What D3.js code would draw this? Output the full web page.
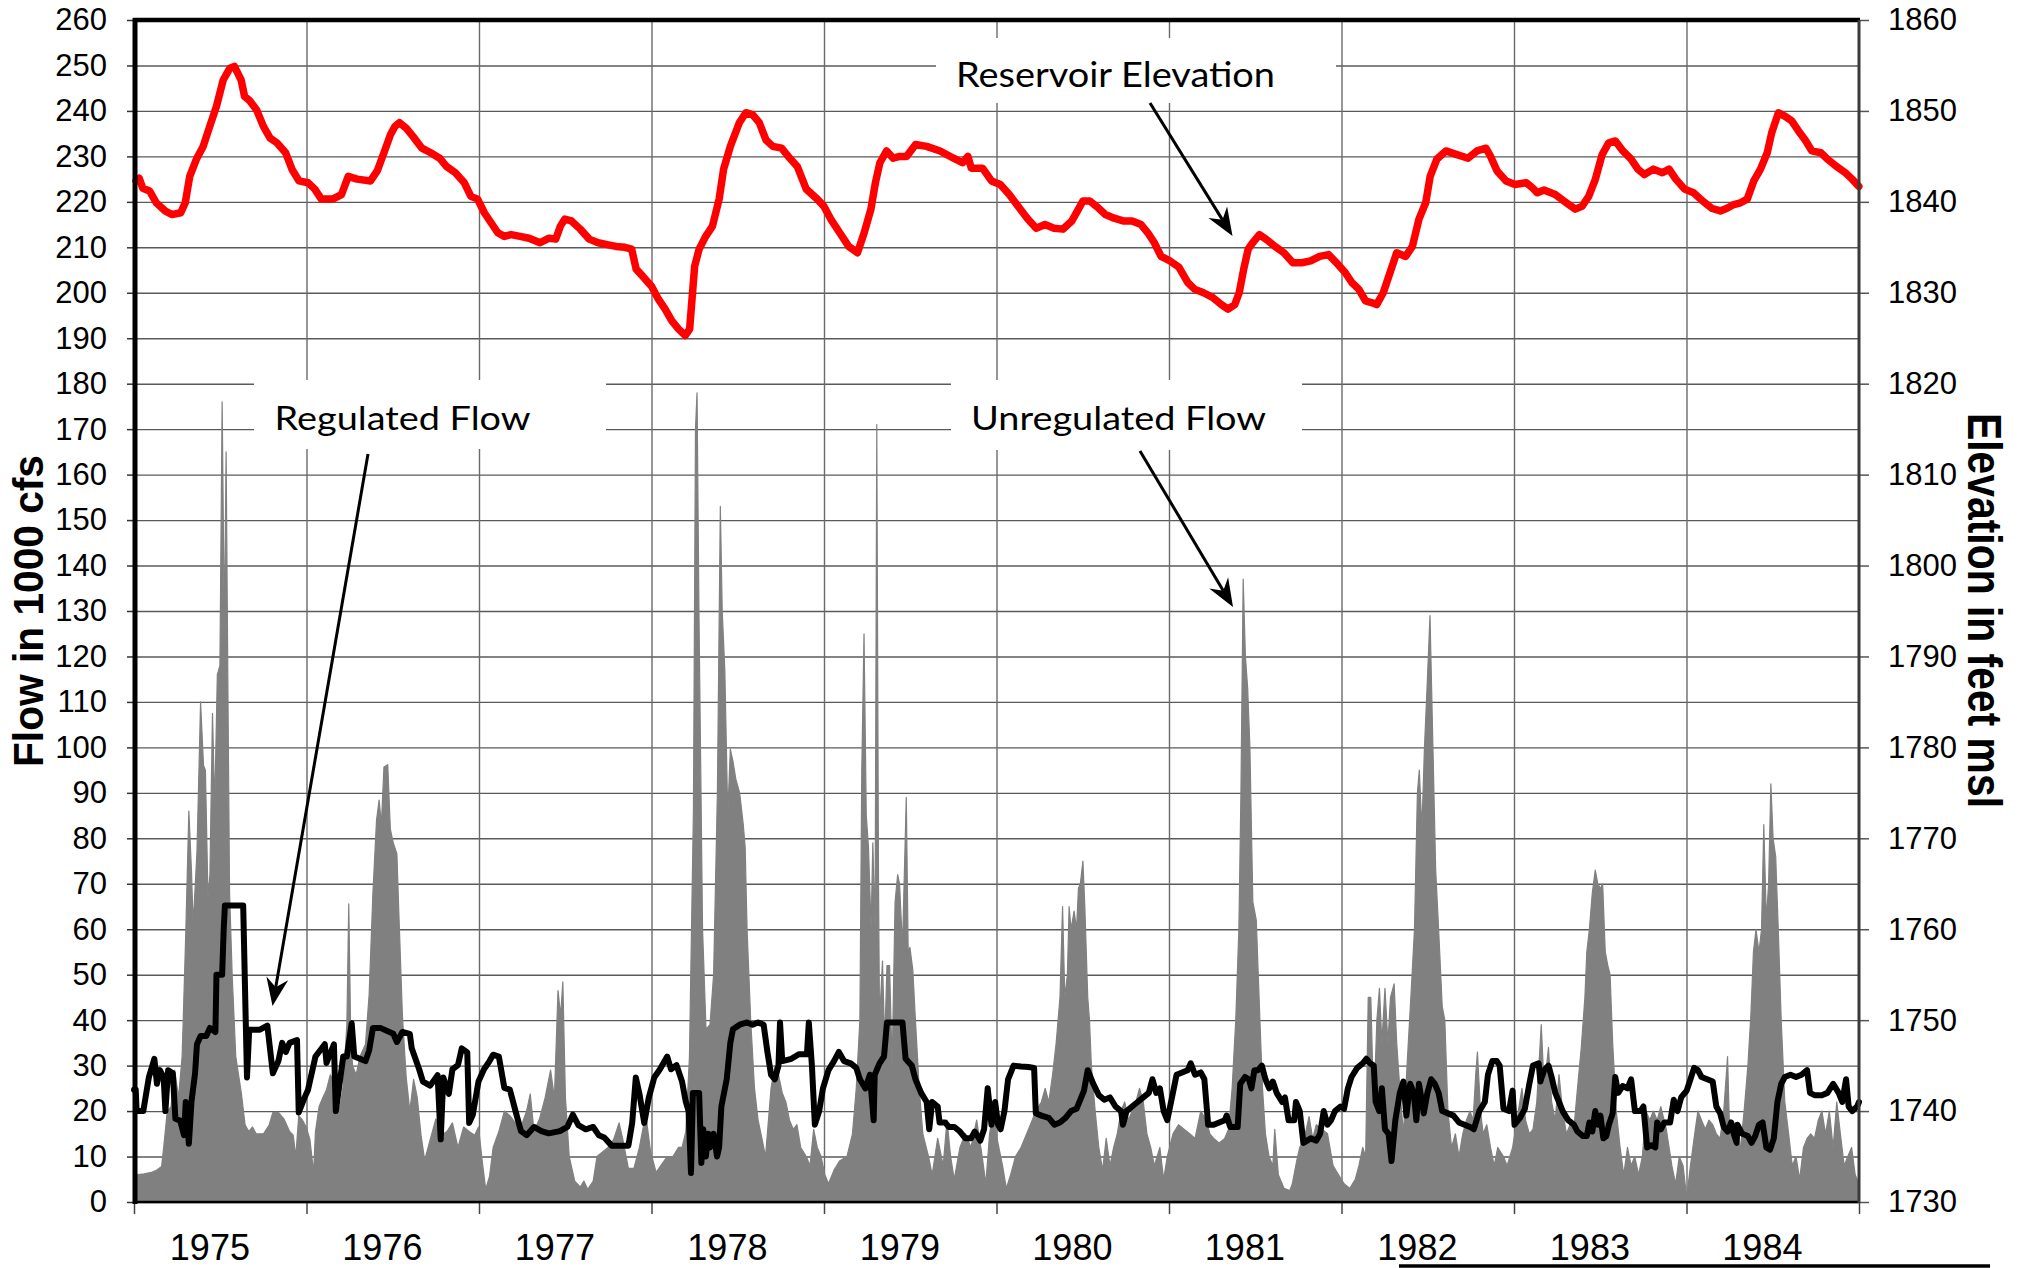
<!DOCTYPE html>
<html>
<head>
<meta charset="utf-8">
<script src="https://cdn.jsdelivr.net/npm/d3@7"></script>
<style>
  body { margin: 0; background: #ffffff; }
  svg { display: block; }
</style>
</head>
<body>
<svg id="chart" width="2023" height="1268"></svg>
<script>
// ---------------- DATA ----------------
// Time is expressed in years since the start of the record (0 = left edge, 10 = right edge).
const yearLabels = [1975, 1976, 1977, 1978, 1979, 1980, 1981, 1982, 1983, 1984];
const yearBoundaries = [0, 1, 2, 3, 4, 5, 6, 7, 8, 9, 10];
const flowTicks = [0, 10, 20, 30, 40, 50, 60, 70, 80, 90, 100, 110, 120, 130, 140, 150, 160, 170, 180, 190, 200, 210, 220, 230, 240, 250, 260];
const elevationTicks = [1730, 1740, 1750, 1760, 1770, 1780, 1790, 1800, 1810, 1820, 1830, 1840, 1850, 1860];

// Unregulated flow, 1000 cfs  [time, flow]
const unregulatedFlow = [
[0,8.3],[0.01,6],[0.06,6.2],[0.10,6.5],[0.13,7],[0.16,7.8],[0.172,12],[0.193,20],[0.215,21],[0.236,29],[0.258,23],[0.279,32],[0.30,59],[0.318,86],[0.333,73],[0.343,61],[0.365,77],[0.386,110],[0.403,96],[0.414,95],[0.429,67],[0.44,72],[0.455,107.5],[0.468,87],[0.483,116],[0.498,118],[0.511,176],[0.524,125],[0.534,165],[0.545,110],[0.554,68],[0.569,50],[0.59,32],[0.622,24],[0.644,17],[0.665,15.5],[0.687,16.5],[0.708,15],[0.751,15],[0.784,17],[0.805,19.7],[0.837,19.7],[0.869,18.3],[0.902,15.5],[0.923,14.7],[0.938,10],[0.955,19],[0.977,18],[0.998,16.5],[1.02,13.7],[1.041,6.5],[1.052,15.5],[1.073,21],[1.095,23],[1.116,24.7],[1.138,28],[1.17,25.6],[1.191,20],[1.213,25.6],[1.234,39],[1.245,65.6],[1.257,35],[1.267,30],[1.288,28],[1.31,32],[1.342,34.7],[1.363,45.6],[1.385,68],[1.406,84],[1.421,88.4],[1.434,83],[1.449,95.7],[1.471,96.2],[1.486,82],[1.503,79],[1.524,76.6],[1.535,64],[1.556,41],[1.578,27.4],[1.599,20],[1.621,27],[1.642,23],[1.664,14.7],[1.685,9.2],[1.717,13.7],[1.75,18.3],[1.782,14.7],[1.814,15.5],[1.846,17.4],[1.878,12],[1.911,16.5],[1.943,15.5],[1.975,14.7],[1.997,16.5],[2.018,9.2],[2.039,2.8],[2.061,5.6],[2.082,12],[2.115,15.5],[2.147,20],[2.179,19],[2.211,17.4],[2.243,16.5],[2.276,20],[2.297,23.8],[2.319,15.5],[2.351,18.3],[2.383,22.9],[2.415,29],[2.437,22.9],[2.458,46.5],[2.473,41],[2.486,48.4],[2.501,23],[2.523,10],[2.555,4.6],[2.587,3.3],[2.608,4.6],[2.63,2.8],[2.662,4.6],[2.684,10],[2.716,11],[2.748,12],[2.78,13.7],[2.812,17.4],[2.834,13.7],[2.866,7.4],[2.898,7.4],[2.93,12],[2.952,16.5],[2.973,17.4],[2.995,11],[3.027,6.5],[3.059,8.3],[3.091,10],[3.124,10],[3.156,12],[3.177,12],[3.199,15.5],[3.22,32],[3.243,86],[3.255,170],[3.264,178],[3.275,130],[3.296,60],[3.316,38],[3.339,39],[3.36,50],[3.382,90],[3.399,153],[3.41,130],[3.425,117],[3.442,85],[3.457,99.6],[3.472,97],[3.489,93],[3.511,90],[3.532,83],[3.543,78],[3.554,60],[3.575,40],[3.597,25],[3.618,18],[3.64,14],[3.661,10],[3.693,25],[3.715,30],[3.736,28],[3.758,24],[3.779,22],[3.8,18],[3.822,16],[3.843,17],[3.865,12],[3.897,10],[3.919,8],[3.94,16],[3.961,12],[3.983,10],[4.005,6],[4.026,4],[4.058,7],[4.09,9],[4.133,10],[4.165,15],[4.187,25],[4.208,40],[4.219,95],[4.232,125],[4.245,85],[4.258,78],[4.273,60],[4.283,79],[4.296,60],[4.306,171],[4.316,70],[4.322,40],[4.339,53],[4.352,35],[4.365,52],[4.38,52],[4.395,30],[4.412,66],[4.427,72],[4.438,70],[4.455,56],[4.477,89],[4.488,55],[4.498,56],[4.515,51],[4.53,40],[4.552,25],[4.573,15],[4.606,10],[4.627,6],[4.659,14],[4.691,8],[4.713,18],[4.734,10],[4.755,5],[4.788,12],[4.82,15],[4.852,12],[4.885,18],[4.917,10],[4.938,4],[4.96,15],[4.981,20],[5.003,14],[5.035,8],[5.057,3],[5.082,6],[5.11,10],[5.142,12],[5.175,15],[5.207,18],[5.228,20],[5.26,22],[5.282,25],[5.303,22],[5.325,28],[5.346,35],[5.368,45],[5.383,65],[5.396,45],[5.411,50],[5.421,65],[5.432,60],[5.45,64],[5.464,60],[5.475,69],[5.486,70],[5.501,75],[5.512,65],[5.529,45],[5.539,40],[5.55,30],[5.572,20],[5.593,12],[5.615,7],[5.636,14],[5.658,8],[5.679,12],[5.7,15],[5.722,20],[5.743,22],[5.765,18],[5.786,20],[5.808,22],[5.829,25],[5.851,22],[5.872,15],[5.894,12],[5.915,8],[5.947,12],[5.969,5],[5.99,10],[6.023,15],[6.055,17],[6.087,16],[6.12,15],[6.151,14],[6.184,20],[6.216,18],[6.237,15],[6.259,14],[6.291,13],[6.323,14],[6.345,16],[6.366,25],[6.387,40],[6.405,60],[6.417,90],[6.43,137],[6.443,120],[6.456,113],[6.469,100],[6.486,66],[6.506,62],[6.527,40],[6.542,25],[6.559,15],[6.58,10],[6.602,8],[6.613,16],[6.634,6],[6.667,3],[6.7,2.5],[6.715,4],[6.74,9],[6.758,12],[6.79,15],[6.812,18.8],[6.833,14],[6.854,17],[6.887,16],[6.919,15],[6.951,8],[6.983,6],[7.015,4],[7.048,3],[7.08,5],[7.101,8],[7.123,12],[7.14,10],[7.155,45],[7.17,45],[7.187,20],[7.205,40],[7.22,47],[7.234,35],[7.252,47],[7.269,35],[7.284,45],[7.305,48],[7.32,35],[7.338,25],[7.359,15],[7.38,30],[7.402,45],[7.423,60],[7.44,90],[7.451,95],[7.466,82],[7.481,100],[7.498,115],[7.513,129],[7.53,100],[7.546,73],[7.563,60],[7.584,43],[7.599,40],[7.617,20],[7.638,12],[7.66,15],[7.681,10],[7.703,15],[7.724,18],[7.745,20],[7.763,18],[7.778,28],[7.788,33],[7.806,20],[7.821,15],[7.842,17],[7.864,12],[7.885,8],[7.906,12],[7.939,10],[7.96,8],[7.992,12],[8.025,20],[8.046,25],[8.067,18],[8.089,15],[8.11,16],[8.132,22],[8.158,39],[8.175,25],[8.2,34],[8.218,22],[8.239,18],[8.261,28],[8.282,20],[8.304,15],[8.325,17],[8.347,16],[8.368,25],[8.39,34],[8.411,45],[8.422,55],[8.437,60],[8.454,68],[8.471,73],[8.486,70],[8.501,69],[8.514,70],[8.529,55],[8.544,52],[8.557,50],[8.572,35],[8.593,20],[8.615,12],[8.636,6],[8.658,12],[8.679,8],[8.7,10],[8.722,6],[8.744,10],[8.765,20],[8.787,18],[8.808,20],[8.83,18],[8.851,21],[8.883,16],[8.915,8],[8.937,4],[8.958,10],[8.98,8],[9.001,1],[9.023,8],[9.044,14],[9.066,20],[9.087,18],[9.109,16],[9.13,18],[9.152,17],[9.173,15],[9.195,14],[9.216,20],[9.238,32],[9.248,18],[9.27,16],[9.291,14],[9.313,12],[9.334,20],[9.356,30],[9.373,41],[9.388,55],[9.403,60],[9.42,55],[9.435,60],[9.448,83],[9.463,62],[9.476,70],[9.489,92],[9.502,80],[9.517,76],[9.532,60],[9.549,40],[9.57,22],[9.592,15],[9.613,8],[9.635,10],[9.656,5],[9.678,12],[9.699,14],[9.72,15],[9.742,14],[9.764,18],[9.785,20],[9.806,15],[9.828,20],[9.85,12],[9.871,22],[9.892,15],[9.914,8],[9.935,10],[9.957,12],[9.978,6],[10,4]
];

// Regulated flow, 1000 cfs  [time, flow]
const regulatedFlow = [
[0,24.7],[0.01,24.7],[0.015,20],[0.054,20],[0.086,27.4],[0.118,31.5],[0.133,26],[0.15,29],[0.172,27.4],[0.182,20],[0.198,29],[0.225,28.3],[0.24,18.3],[0.268,17.9],[0.29,14.7],[0.30,22],[0.318,12.8],[0.333,22],[0.354,28.3],[0.365,34.7],[0.386,36.5],[0.419,36.5],[0.44,38.3],[0.472,37.4],[0.478,50],[0.511,50],[0.52,60],[0.527,65.2],[0.633,65.2],[0.655,27.4],[0.668,37.9],[0.73,37.9],[0.773,38.8],[0.805,28.3],[0.837,31],[0.859,35],[0.88,33],[0.902,35],[0.945,35.6],[0.955,19.7],[0.988,22.9],[1.009,24.7],[1.052,32],[1.106,34.7],[1.116,30.6],[1.159,34.7],[1.17,20],[1.213,32],[1.234,32],[1.262,39.3],[1.277,32],[1.342,31],[1.363,33.3],[1.385,38.3],[1.428,38.3],[1.503,37],[1.524,35.2],[1.556,37.4],[1.599,37],[1.61,33.8],[1.653,29.2],[1.675,26.5],[1.717,25.6],[1.76,27.9],[1.778,13.8],[1.793,27.4],[1.825,23.8],[1.846,29.2],[1.878,30.1],[1.9,33.8],[1.932,32.9],[1.943,17.4],[1.964,19.2],[1.997,26.5],[2.029,29.2],[2.061,31],[2.082,32.4],[2.115,32],[2.147,25.1],[2.179,24.7],[2.211,20.1],[2.243,15.6],[2.276,14.7],[2.319,16.5],[2.362,15.6],[2.404,15.1],[2.469,15.6],[2.512,16.5],[2.544,19.2],[2.576,16.9],[2.619,16],[2.662,16.5],[2.694,14.7],[2.726,14.2],[2.769,12.4],[2.812,12.4],[2.866,12.4],[2.888,17.4],[2.909,27.4],[2.93,23.8],[2.958,17.4],[2.984,22.9],[3.016,27.4],[3.049,29.2],[3.091,32],[3.113,29.2],[3.145,30.1],[3.177,26.5],[3.199,22],[3.215,20],[3.229,6.4],[3.24,24],[3.276,24],[3.289,8.6],[3.3,16],[3.315,10],[3.33,15],[3.339,12],[3.36,15],[3.38,10],[3.392,12],[3.405,21],[3.436,27],[3.457,35],[3.472,38],[3.511,39],[3.554,39.5],[3.586,39],[3.618,39.5],[3.65,39],[3.672,33],[3.693,28],[3.715,27],[3.736,30],[3.745,39.5],[3.758,31],[3.811,31.5],[3.854,32.5],[3.901,32.5],[3.912,39.5],[3.93,30],[3.947,17],[3.972,20],[3.994,25],[4.026,29],[4.058,31],[4.086,33],[4.116,31],[4.155,30.5],[4.187,29.5],[4.208,27],[4.24,25],[4.266,28],[4.288,18],[4.294,28],[4.322,30.5],[4.348,32],[4.365,39.5],[4.455,39.5],[4.473,31.5],[4.509,30],[4.53,27],[4.563,24],[4.595,22],[4.61,16],[4.627,22],[4.659,21],[4.67,17.5],[4.702,17.5],[4.724,16.5],[4.756,16.5],[4.788,15.5],[4.82,14],[4.852,14],[4.874,15.5],[4.906,13.5],[4.928,16],[4.949,25],[4.971,17],[4.992,22],[5.009,17],[5.024,16],[5.046,20],[5.067,27],[5.099,30],[5.142,29.8],[5.185,29.7],[5.218,29.5],[5.228,19.5],[5.26,19],[5.303,18.5],[5.336,17],[5.368,17.5],[5.4,18.5],[5.432,20],[5.464,20.5],[5.486,22.5],[5.507,24.5],[5.529,29],[5.561,26],[5.593,23.5],[5.625,22.5],[5.658,23],[5.69,21],[5.722,20],[5.733,17],[5.754,20],[5.786,21],[5.818,22],[5.851,23],[5.883,24],[5.904,27],[5.926,24],[5.947,25],[5.969,20],[5.99,18],[6.012,22],[6.044,28],[6.076,28.5],[6.108,29],[6.126,30.5],[6.151,28],[6.184,28.5],[6.205,27],[6.227,17],[6.259,17],[6.291,17.5],[6.323,18],[6.334,19],[6.355,16.5],[6.398,16.5],[6.413,26],[6.441,27.5],[6.463,27],[6.478,25],[6.495,29],[6.516,29],[6.538,30],[6.559,27],[6.581,25],[6.602,26.5],[6.624,24],[6.656,22],[6.672,23],[6.693,18],[6.726,18],[6.736,22],[6.758,20],[6.779,13],[6.822,14],[6.854,13.5],[6.876,15],[6.897,20],[6.919,17],[6.94,18],[6.962,20],[6.994,21],[7.015,20.5],[7.037,25],[7.058,27.5],[7.091,29.5],[7.123,30.5],[7.144,31.5],[7.166,30.5],[7.187,30],[7.198,22],[7.219,20],[7.234,25],[7.252,16],[7.273,15],[7.29,9],[7.312,18],[7.338,24],[7.359,26.5],[7.376,19],[7.398,26],[7.419,24],[7.434,18],[7.449,26],[7.477,19.5],[7.498,24],[7.52,27],[7.541,26],[7.563,24],[7.584,20],[7.617,19.5],[7.649,19],[7.681,17.5],[7.713,17],[7.745,16.5],[7.767,16],[7.799,20],[7.831,22],[7.849,28],[7.874,31],[7.9,31],[7.917,30],[7.939,20.5],[7.971,20],[7.992,24.5],[8.003,17],[8.035,18.5],[8.063,20.5],[8.089,26],[8.11,30],[8.143,30.5],[8.153,26.5],[8.175,29],[8.2,30],[8.218,27.5],[8.239,24],[8.261,22],[8.282,20],[8.314,18],[8.347,17],[8.368,15.5],[8.4,14.5],[8.422,14.5],[8.437,17.5],[8.454,15.5],[8.471,20],[8.486,17],[8.501,19],[8.518,14],[8.535,14.5],[8.55,17],[8.572,19.5],[8.587,27.5],[8.604,24],[8.63,25.5],[8.658,25],[8.679,27],[8.701,20],[8.733,20],[8.75,21],[8.772,12],[8.797,12.5],[8.819,12],[8.83,17.5],[8.851,16],[8.872,17.5],[8.905,17.5],[8.926,22.5],[8.948,20],[8.969,23],[9.001,24.5],[9.023,27],[9.044,29.5],[9.066,29],[9.087,27.5],[9.12,27],[9.152,26.5],[9.173,21],[9.195,19.5],[9.216,16.5],[9.238,15.5],[9.259,17.5],[9.274,15],[9.291,13],[9.295,17],[9.323,15],[9.356,14.5],[9.377,13],[9.398,14.5],[9.42,17],[9.441,17.5],[9.463,12],[9.484,11.5],[9.506,14],[9.527,22],[9.549,26],[9.57,27.5],[9.603,28],[9.635,27.5],[9.667,28],[9.699,29],[9.716,24],[9.742,23.5],[9.785,23.5],[9.817,24],[9.85,26],[9.882,24],[9.903,22],[9.925,27],[9.94,21],[9.961,20],[9.989,21],[10,22]
];

// Reservoir elevation, feet msl  [time, elevation]
const reservoirElevation = [
[0.012,1842.3],[0.03,1842.6],[0.051,1841.5],[0.09,1841.2],[0.129,1839.9],[0.181,1839.0],[0.219,1838.6],[0.271,1838.8],[0.297,1839.9],[0.323,1842.8],[0.362,1844.7],[0.401,1846.1],[0.439,1848.3],[0.478,1850.5],[0.517,1853.4],[0.556,1854.7],[0.582,1854.9],[0.621,1853.4],[0.641,1851.6],[0.672,1851.1],[0.711,1850.1],[0.75,1848.3],[0.789,1847.0],[0.828,1846.5],[0.879,1845.4],[0.918,1843.5],[0.957,1842.3],[1.009,1842.1],[1.048,1841.4],[1.086,1840.3],[1.151,1840.3],[1.203,1840.8],[1.242,1842.8],[1.293,1842.5],[1.371,1842.3],[1.41,1843.4],[1.449,1845.4],[1.487,1847.4],[1.513,1848.3],[1.539,1848.7],[1.578,1848.1],[1.617,1847.2],[1.669,1845.9],[1.72,1845.4],[1.772,1844.8],[1.811,1843.9],[1.863,1843.2],[1.915,1842.1],[1.953,1840.6],[1.992,1840.3],[2.031,1838.8],[2.07,1837.7],[2.109,1836.6],[2.147,1836.2],[2.186,1836.4],[2.238,1836.2],[2.29,1836.0],[2.354,1835.5],[2.406,1836.0],[2.445,1835.9],[2.471,1837.3],[2.497,1838.1],[2.536,1837.9],[2.587,1837.0],[2.639,1835.9],[2.691,1835.5],[2.743,1835.3],[2.794,1835.1],[2.846,1835.0],[2.885,1834.8],[2.911,1832.6],[2.95,1831.8],[3.001,1830.7],[3.04,1829.3],[3.079,1828.2],[3.118,1826.9],[3.157,1826.0],[3.196,1825.3],[3.221,1826.0],[3.25,1832.9],[3.276,1834.8],[3.314,1836.2],[3.353,1837.3],[3.392,1840.3],[3.418,1843.6],[3.457,1846.1],[3.509,1848.7],[3.547,1849.8],[3.586,1849.6],[3.625,1848.7],[3.664,1846.8],[3.703,1846.1],[3.754,1845.9],[3.793,1845.0],[3.845,1843.9],[3.897,1841.4],[3.961,1840.3],[4.0,1839.5],[4.039,1838.1],[4.091,1836.6],[4.143,1835.1],[4.194,1834.4],[4.233,1836.6],[4.272,1839.2],[4.298,1842.1],[4.324,1844.3],[4.363,1845.6],[4.401,1844.8],[4.44,1845.0],[4.479,1845.0],[4.531,1846.3],[4.595,1846.1],[4.673,1845.6],[4.751,1844.8],[4.803,1844.3],[4.834,1845.0],[4.854,1843.7],[4.919,1843.7],[4.971,1842.3],[5.022,1841.9],[5.074,1840.8],[5.126,1839.5],[5.178,1838.2],[5.23,1837.1],[5.281,1837.5],[5.333,1837.1],[5.385,1837.0],[5.437,1837.9],[5.475,1839.2],[5.501,1840.1],[5.54,1840.1],[5.592,1839.3],[5.631,1838.6],[5.682,1838.2],[5.734,1837.9],[5.786,1837.9],[5.838,1837.5],[5.877,1836.6],[5.915,1835.5],[5.954,1834.0],[6.006,1833.5],[6.058,1832.8],[6.11,1831.1],[6.148,1830.4],[6.2,1830.0],[6.252,1829.5],[6.304,1828.7],[6.342,1828.2],[6.381,1828.7],[6.407,1830.0],[6.433,1832.6],[6.459,1834.8],[6.485,1835.5],[6.524,1836.4],[6.562,1835.9],[6.614,1835.1],[6.666,1834.4],[6.718,1833.3],[6.77,1833.3],[6.821,1833.5],[6.873,1834.0],[6.925,1834.2],[6.971,1833.3],[7.022,1832.2],[7.061,1831.1],[7.1,1830.4],[7.139,1829.1],[7.178,1828.9],[7.204,1828.7],[7.242,1830.0],[7.281,1832.2],[7.32,1834.4],[7.372,1834.0],[7.411,1835.1],[7.449,1838.1],[7.488,1839.9],[7.514,1842.8],[7.553,1844.7],[7.605,1845.6],[7.669,1845.2],[7.734,1844.8],[7.786,1845.6],[7.838,1845.9],[7.864,1845.0],[7.902,1843.4],[7.954,1842.3],[8.006,1841.9],[8.071,1842.1],[8.109,1841.5],[8.135,1841.0],[8.174,1841.3],[8.239,1840.8],[8.303,1839.9],[8.355,1839.2],[8.394,1839.5],[8.433,1840.6],[8.472,1842.5],[8.511,1845.2],[8.549,1846.5],[8.588,1846.7],[8.627,1845.7],[8.679,1844.7],[8.718,1843.6],[8.756,1843.0],[8.808,1843.6],[8.86,1843.2],[8.899,1843.6],[8.938,1842.5],[8.989,1841.4],[9.041,1841.0],[9.093,1840.1],[9.145,1839.3],[9.196,1839.0],[9.235,1839.3],[9.274,1839.7],[9.313,1839.9],[9.352,1840.3],[9.39,1842.3],[9.429,1843.6],[9.468,1845.4],[9.494,1847.6],[9.533,1849.8],[9.572,1849.4],[9.61,1848.9],[9.649,1847.8],[9.688,1846.8],[9.727,1845.6],[9.779,1845.4],[9.817,1844.7],[9.869,1843.9],[9.921,1843.2],[9.96,1842.5],[9.999,1841.7]
];

// ---------------- CHART ----------------
const svg = d3.select("#chart");
const L = 134, R = 1859, T = 20, B = 1202;

const x = d3.scaleLinear().domain([0, 10]).range([L, R]);
const yFlow = d3.scaleLinear().domain([0, 260]).range([B, T]);
const yElev = d3.scaleLinear().domain([1730, 1860]).range([B, T]);

svg.append("rect").attr("width", 2023).attr("height", 1268).attr("fill", "#fff");

// gridlines
const gridH = svg.append("g").attr("transform", `translate(${L},0)`)
  .call(d3.axisLeft(yFlow).tickValues(flowTicks).tickSize(-(R - L)).tickFormat(""));
gridH.select(".domain").remove();
gridH.selectAll("line").attr("stroke", "#5a5a5a").attr("stroke-width", 1.4);

const gridV = svg.append("g").attr("transform", `translate(0,${B})`)
  .call(d3.axisBottom(x).tickValues(yearBoundaries.slice(1, -1)).tickSize(-(B - T)).tickFormat(""));
gridV.select(".domain").remove();
gridV.selectAll("line").attr("stroke", "#6a6a6a").attr("stroke-width", 1.4);

// unregulated flow area
svg.append("path")
  .datum(unregulatedFlow)
  .attr("fill", "#808080")
  .attr("stroke", "#808080").attr("stroke-width", 1.2).attr("stroke-linejoin", "round")
  .attr("d", d3.area().x(d => x(d[0])).y0(yFlow(0)).y1(d => yFlow(d[1])));

// regulated flow line
svg.append("path")
  .datum(regulatedFlow)
  .attr("fill", "none").attr("stroke", "#000").attr("stroke-width", 6)
  .attr("stroke-linejoin", "round").attr("stroke-linecap", "round")
  .attr("d", d3.line().x(d => x(d[0])).y(d => yFlow(d[1])));

// reservoir elevation line
svg.append("path")
  .datum(reservoirElevation)
  .attr("fill", "none").attr("stroke", "#ff0000").attr("stroke-width", 7.5)
  .attr("stroke-linejoin", "round").attr("stroke-linecap", "round")
  .attr("d", d3.line().x(d => x(d[0])).y(d => yElev(d[1])));

// axes
const axL = svg.append("g").attr("transform", `translate(${L},0)`)
  .call(d3.axisLeft(yFlow).tickValues(flowTicks).tickSize(7).tickPadding(20).tickFormat(d3.format("d")));
axL.select(".domain").remove();
axL.selectAll("line").attr("stroke", "#333").attr("stroke-width", 1.5);
axL.selectAll("text").attr("font-family", "'Liberation Sans', Arial, sans-serif").attr("font-size", 31).attr("fill", "#000");

const axR = svg.append("g").attr("transform", `translate(${R},0)`)
  .call(d3.axisRight(yElev).tickValues(elevationTicks).tickSize(10).tickPadding(19).tickFormat(d3.format("d")));
axR.select(".domain").remove();
axR.selectAll("line").attr("stroke", "#555").attr("stroke-width", 1.5);
axR.selectAll("text").attr("font-family", "'Liberation Sans', Arial, sans-serif").attr("font-size", 31).attr("fill", "#000");

const axB = svg.append("g").attr("transform", `translate(0,${B})`)
  .call(d3.axisBottom(x).tickValues(yearBoundaries).tickSize(12).tickFormat(""));
axB.select(".domain").remove();
axB.selectAll("line").attr("stroke", "#444").attr("stroke-width", 1.5);

svg.append("g").selectAll("text").data(yearLabels).join("text")
  .attr("x", (d, i) => x(i + 0.44)).attr("y", 1260)
  .attr("text-anchor", "middle")
  .attr("font-family", "'Liberation Sans', Arial, sans-serif").attr("font-size", 36).attr("fill", "#000")
  .text(d => d);

// frame
svg.append("line").attr("x1", L).attr("x2", R).attr("y1", B).attr("y2", B).attr("stroke", "#000").attr("stroke-width", 2.5);
svg.append("line").attr("x1", L - 1).attr("x2", R + 1).attr("y1", T).attr("y2", T).attr("stroke", "#000").attr("stroke-width", 4.5);
svg.append("line").attr("x1", R).attr("x2", R).attr("y1", T).attr("y2", B + 1).attr("stroke", "#3a3a3a").attr("stroke-width", 3);
svg.append("line").attr("x1", L + 1).attr("x2", L + 1).attr("y1", T - 2).attr("y2", B + 2).attr("stroke", "#000").attr("stroke-width", 5);

// underline below right-hand year labels
svg.append("line").attr("x1", 1399).attr("x2", 1990).attr("y1", 1266).attr("y2", 1266).attr("stroke", "#000").attr("stroke-width", 3.5);

// axis titles
svg.append("text")
  .attr("transform", "translate(42.5,611) rotate(-90)")
  .attr("text-anchor", "middle")
  .attr("font-family", "'Liberation Sans', Arial, sans-serif").attr("font-weight", "bold").attr("font-size", 43)
  .attr("textLength", 312).attr("lengthAdjust", "spacingAndGlyphs")
  .text("Flow in 1000 cfs");

svg.append("text")
  .attr("transform", "translate(1968,610.5) rotate(90)")
  .attr("text-anchor", "middle")
  .attr("font-family", "'Liberation Sans', Arial, sans-serif").attr("font-weight", "bold").attr("font-size", 49)
  .attr("textLength", 395).attr("lengthAdjust", "spacingAndGlyphs")
  .text("Elevation in feet msl");

// annotations
const notes = [
  { text: "Reservoir Elevation", box: [936, 38, 1336, 103], tx: 956, ty: 87, len: 319, fs: 35, from: [1150, 103], to: [1232.5, 236] },
  { text: "Regulated Flow", box: [254, 380, 606, 449], tx: 274.5, ty: 430, len: 256, fs: 33, from: [368, 454], to: [272.5, 1006] },
  { text: "Unregulated Flow", box: [951, 380, 1302, 450], tx: 971, ty: 430, len: 295, fs: 33, from: [1140, 451], to: [1233, 607] }
];
const ng = svg.append("g");
notes.forEach(n => {
  ng.append("rect").attr("x", n.box[0]).attr("y", n.box[1])
    .attr("width", n.box[2] - n.box[0]).attr("height", n.box[3] - n.box[1]).attr("fill", "#fff");
  ng.append("text").attr("x", n.tx).attr("y", n.ty)
    .attr("font-family", "Lato, 'Open Sans', sans-serif").attr("font-size", n.fs).attr("fill", "#000")
    .attr("textLength", n.len).attr("lengthAdjust", "spacingAndGlyphs")
    .text(n.text);
  const [x1, y1] = n.from, [x2, y2] = n.to;
  const dx = x2 - x1, dy = y2 - y1, len = Math.hypot(dx, dy);
  const ux = dx / len, uy = dy / len, px = -uy, py = ux;
  const hl = 28, hw = 11, notch = 9;
  const bx = x2 - ux * hl, by = y2 - uy * hl;
  const nx = x2 - ux * (hl - notch), ny = y2 - uy * (hl - notch);
  ng.append("line").attr("x1", x1).attr("y1", y1).attr("x2", nx).attr("y2", ny)
    .attr("stroke", "#000").attr("stroke-width", 3);
  ng.append("path")
    .attr("d", `M${x2},${y2} L${bx + px * hw},${by + py * hw} L${nx},${ny} L${bx - px * hw},${by - py * hw} Z`)
    .attr("fill", "#000");
});
</script>
</body>
</html>
